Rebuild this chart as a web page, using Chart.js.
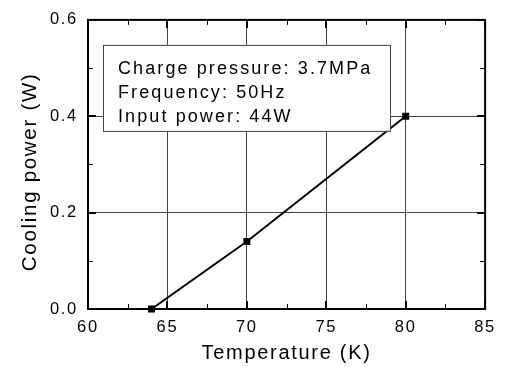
<!DOCTYPE html>
<html>
<head>
<meta charset="utf-8">
<script src="https://cdn.jsdelivr.net/npm/chart.js@4"></script>
<style>
  html, body { margin: 0; padding: 0; background: #fff; }
  #wrap { width: 505px; height: 367px; }
</style>
</head>
<body>
<div id="wrap"><canvas id="myChart" width="505" height="367"></canvas></div>
<script>
// data
const temperature = [64, 70, 80];
const coolingPower = [0.0, 0.14, 0.4];
const xTicks = [60, 65, 70, 75, 80, 85];
const yTicks = [0.0, 0.2, 0.4, 0.6];
const xMinor = [62.5, 67.5, 72.5, 77.5, 82.5];
const yMinor = [0.1, 0.3, 0.5];
const boxLines = ["Charge pressure: 3.7MPa", "Frequency: 50Hz", "Input power: 44W"];

const font = "'Liberation Sans', Arial, sans-serif";

// spacing between letters, like the original plot
const spacing = {
  id: "spacing",
  beforeUpdate(chart) { chart.ctx.letterSpacing = "1.7px"; },
  beforeDraw(chart) { chart.ctx.letterSpacing = "1.7px"; }
};

const frame = {
  id: "frame",
  afterDatasetsDraw(chart) {
    const ctx = chart.ctx;
    const a = chart.chartArea;
    const xs = chart.scales.x, ys = chart.scales.y;
    ctx.save();
    ctx.strokeStyle = "#000";
    ctx.lineWidth = 1;
    ctx.beginPath();
    // minor ticks, inside, on all four sides
    xMinor.forEach(v => {
      const px = Math.round(xs.getPixelForValue(v)) + 0.5;
      ctx.moveTo(px, a.bottom); ctx.lineTo(px, a.bottom - 5);
      ctx.moveTo(px, a.top); ctx.lineTo(px, a.top + 5);
    });
    yMinor.forEach(v => {
      const py = Math.round(ys.getPixelForValue(v)) + 0.5;
      ctx.moveTo(a.left, py); ctx.lineTo(a.left + 5, py);
      ctx.moveTo(a.right, py); ctx.lineTo(a.right - 5, py);
    });
    ctx.stroke();
    // major ticks
    ctx.lineWidth = 2;
    ctx.beginPath();
    xTicks.forEach(v => {
      const px = Math.round(xs.getPixelForValue(v));
      ctx.moveTo(px, a.bottom); ctx.lineTo(px, a.bottom - 8);
      ctx.moveTo(px, a.top); ctx.lineTo(px, a.top + 8);
    });
    yTicks.forEach(v => {
      const py = Math.round(ys.getPixelForValue(v));
      ctx.moveTo(a.left, py); ctx.lineTo(a.left + 8, py);
      ctx.moveTo(a.right, py); ctx.lineTo(a.right - 8, py);
    });
    ctx.stroke();
    ctx.strokeRect(a.left, a.top, a.right - a.left, a.bottom - a.top);

    // the text box
    const bx = a.left + 15, by = a.top + 25, bw = 287, bh = 86;
    ctx.fillStyle = "#fff";
    ctx.fillRect(bx, by, bw, bh);
    ctx.lineWidth = 1;
    ctx.strokeStyle = "#444";
    ctx.strokeRect(bx + 0.5, by + 0.5, bw, bh);
    ctx.fillStyle = "#000";
    ctx.font = "18px " + font;
    ctx.letterSpacing = "2.1px";
    ctx.textBaseline = "alphabetic";
    ctx.textAlign = "left";
    boxLines.forEach((t, i) => ctx.fillText(t, bx + 15, by + 29 + i * 24));
    ctx.restore();
  }
};

const ctx = document.getElementById("myChart").getContext("2d");
const myChart = new Chart(ctx, {
  type: "scatter",
  data: {
    datasets: [{
      data: temperature.map((t, i) => ({ x: t, y: coolingPower[i] })),
      showLine: true,
      borderColor: "#000",
      backgroundColor: "#000",
      borderWidth: 2,
      pointStyle: "rect",
      pointRadius: 3.5,
      pointHoverRadius: 3.5,
      clip: false
    }]
  },
  options: {
    responsive: false,
    animation: false,
    events: [],
    layout: { padding: { top: 18, right: 18, left: 0, bottom: 0 } },
    plugins: { legend: { display: false }, tooltip: { enabled: false } },
    scales: {
      x: {
        type: "linear",
        min: 60, max: 85,
        afterBuildTicks: s => { s.ticks = xTicks.map(v => ({ value: v })); },
        afterFit: s => { s.height = 58; },
        grid: { color: "#444", lineWidth: 1, drawTicks: false },
        border: { display: false },
        ticks: { color: "#000", padding: 9, font: { family: font, size: 16.5 }, maxRotation: 0 },
        title: { display: true, text: "Temperature (K)", color: "#000", padding: { top: 0, bottom: 2 }, font: { family: font, size: 20 } }
      },
      y: {
        type: "linear",
        min: 0, max: 0.6,
        afterBuildTicks: s => { s.ticks = yTicks.map(v => ({ value: v })); },
        afterFit: s => { s.width = 88; },
        grid: { color: "#444", lineWidth: 1, drawTicks: false },
        border: { display: false },
        ticks: { color: "#000", padding: 10, font: { family: font, size: 16.5 }, callback: v => v.toFixed(1) },
        title: { display: true, text: "Cooling power (W)  ", color: "#000", padding: { top: 18, bottom: 0 }, font: { family: font, size: 20.5 } }
      }
    }
  },
  plugins: [spacing, frame]
});
</script>
</body>
</html>
